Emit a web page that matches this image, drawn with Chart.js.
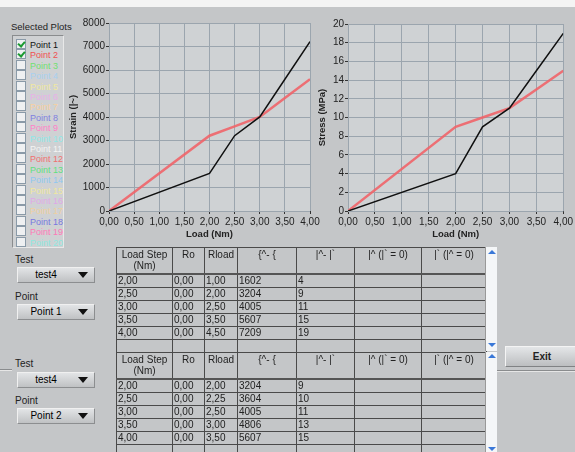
<!DOCTYPE html>
<html>
<head>
<meta charset="utf-8">
<script src="https://cdn.jsdelivr.net/npm/chart.js@4"></script>
<style>
  body { margin: 0; width: 575px; height: 452px; overflow: hidden; background: #c4c6c8; font-family: "Liberation Sans", Arial, sans-serif; position: relative; }
  .abs { position: absolute; }
  #topband { left: 0; top: 0; width: 575px; height: 7px; background: #f4f4f4; }
  .lbl { font-size: 10px; color: #222; }
  #plotlist { left: 12px; top: 35px; width: 50px; height: 211px; background: #cfd1d3; border: 1px solid #8a8c8e; border-right-color: #e8e8e8; border-bottom-color: #e8e8e8; }
  .item { position: absolute; left: 3px; height: 10px; font-size: 9px; line-height: 10px; white-space: nowrap; }
  .box { display: inline-block; width: 8px; height: 8px; background: #eef0f2; border: 1px solid #8a9aa8; vertical-align: -1px; margin-right: 4px; position: relative; }
  .box.on::after { content: ""; position: absolute; left: 2px; top: 0px; width: 3px; height: 5px; border: solid #1a9a30; border-width: 0 2px 2px 0; transform: rotate(40deg); }
  .dd { width: 76px; height: 14px; background: linear-gradient(#e2e4e6, #bfc1c3); border: 1px solid #8c8e90; border-top-color: #f0f0f0; border-left-color: #f0f0f0; font-size: 10px; line-height: 14px; }
  .dd span { position: absolute; left: 0; width: 56px; text-align: center; }
  .dd i { position: absolute; right: 6px; top: 4px; width: 0; height: 0; border-left: 5px solid transparent; border-right: 5px solid transparent; border-top: 6px solid #111; }
  table { border-collapse: collapse; table-layout: fixed; font-size: 10px; color: #222; }
  td, th { border: 1px solid #4a4a4a; padding: 0 1px; height: 12px; line-height: 12px; overflow: hidden; white-space: nowrap; font-weight: normal; }
  th { height: 24px; line-height: 11px; text-align: center; vertical-align: top; padding-top: 1px; white-space: normal; border-bottom: 2px solid #555; }
  .scroll { width: 11px; background: #f4f6f8; border-left: 1px solid #999; }
  .arr { position: absolute; left: 2px; width: 0; height: 0; border-left: 4px solid transparent; border-right: 4px solid transparent; }
  .arr.up { border-bottom: 4px solid #3a78d8; }
  .arr.down { border-top: 4px solid #3a78d8; }
  #exit { left: 505px; top: 346px; width: 72px; height: 19px; background: linear-gradient(#e4e6e8, #bcbec0); border: 1px solid #808284; border-top-color: #f4f4f4; border-left-color: #f4f4f4; font-size: 10px; text-align: center; line-height: 19px; font-weight: bold; color: #222; }
  .split { height: 1px; background: #8a8c8e; border-bottom: 1px solid #e6e6e6; }
</style>
</head>
<body>
<div id="topband" class="abs"></div>
<div class="abs lbl" style="left:11px;top:21px;font-size:9.5px;">Selected Plots</div>
<div id="plotlist" class="abs"></div>

<canvas id="strainChart" class="abs" style="left:60px;top:8px;"></canvas>
<canvas id="stressChart" class="abs" style="left:300px;top:8px;"></canvas>

<div class="abs lbl" style="left:15px;top:254px;">Test</div>
<div class="abs dd" style="left:17px;top:267px;"><span>test4</span><i></i></div>
<div class="abs lbl" style="left:15px;top:291px;">Point</div>
<div class="abs dd" style="left:17px;top:304px;"><span>Point 1</span><i></i></div>

<div class="abs lbl" style="left:15px;top:358px;">Test</div>
<div class="abs dd" style="left:17px;top:372px;"><span>test4</span><i></i></div>
<div class="abs lbl" style="left:15px;top:395px;">Point</div>
<div class="abs dd" style="left:17px;top:408px;"><span>Point 2</span><i></i></div>

<div id="table1" class="abs" style="left:116px;top:247px;"></div>
<div id="table2" class="abs" style="left:116px;top:352px;"></div>
<div class="abs scroll" style="left:485px;top:247px;height:104px;"><div class="arr up" style="top:3px;"></div><div class="arr down" style="top:96px;"></div></div>
<div class="abs scroll" style="left:485px;top:352px;height:100px;"><div class="arr up" style="top:2px;"></div><div class="arr down" style="top:95px;"></div></div>

<div class="abs split" style="left:0;top:369px;width:12px;"></div>
<div class="abs split" style="left:497px;top:370px;width:78px;"></div>
<div id="exit" class="abs">Exit</div>

<script>
// chart data
const loadSteps = [0, 2, 2.5, 3, 3.5, 4];
const strainP1 = [0, 1602, 3204, 4005, 5607, 7209];
const strainP2 = [0, 3204, 3604, 4005, 4806, 5607];
const stressP1 = [0, 4, 9, 11, 15, 19];
const stressP2 = [0, 9, 10, 11, 13, 15];

// table data (rows after the zero step)
const roP1 = [0, 0, 0, 0, 0];
const roP2 = [0, 0, 0, 0, 0];
const rloadP1 = [1, 2, 2.5, 3.5, 4.5];
const rloadP2 = [2, 2.25, 2.5, 3, 3.5];

const pointNames = ['Point 1','Point 2','Point 3','Point 4','Point 5','Point 6','Point 7','Point 8','Point 9','Point 10',
  'Point 11','Point 12','Point 13','Point 14','Point 15','Point 16','Point 17','Point 18','Point 19','Point 20'];
const pointColors = ['#111111','#f05050','#70e070','#a8d0f0','#f0e8a0','#e8b0e8','#f8d0a0','#8080e0','#ff80c8','#90e8e8',
  '#f4f4f4','#f07070','#60e080','#90c8f0','#f0e8a0','#e0a8e8','#f0d0a0','#7878e0','#ff78b8','#90e8e0'];
const selected = [true, true];

const headers = ['Load Step (Nm)', 'Ro', 'Rload', '{^- {', '|^- |`', '|^ (|`  = 0)', '|`  (|^ = 0)'];
const colWidths = [56, 32, 33, 59, 58, 67, 65];

const fmt = v => v.toFixed(2).replace('.', ',');

// list of plots
const list = document.getElementById('plotlist');
pointNames.forEach((name, i) => {
  const d = document.createElement('div');
  d.className = 'item';
  d.style.top = (3 + i * 10.4) + 'px';
  d.style.color = pointColors[i];
  d.innerHTML = '<span class="box' + (selected[i] ? ' on' : '') + '"></span>' + name;
  list.appendChild(d);
});

function buildTable(id, ro, rload, strain, stress) {
  let h = '<table><colgroup>' + colWidths.map(w => '<col style="width:' + w + 'px">').join('') + '</colgroup><tr>';
  h += headers.map(t => '<th>' + t + '</th>').join('') + '</tr>';
  for (let i = 1; i < loadSteps.length; i++) {
    h += '<tr><td>' + fmt(loadSteps[i]) + '</td><td>' + fmt(ro[i - 1]) + '</td><td>' + fmt(rload[i - 1]) +
      '</td><td>' + strain[i] + '</td><td>' + stress[i] + '</td><td></td><td></td></tr>';
  }
  h += '<tr>' + colWidths.map(() => '<td></td>').join('') + '</tr></table>';
  document.getElementById(id).innerHTML = h;
}
buildTable('table1', roP1, rloadP1, strainP1, stressP1);
buildTable('table2', roP2, rloadP2, strainP2, stressP2);

const plotBg = {
  id: 'plotBg',
  beforeDraw(chart) {
    const a = chart.chartArea, c = chart.ctx;
    c.save();
    c.fillStyle = '#cfd2d4';
    c.fillRect(a.left, a.top, a.right - a.left, a.bottom - a.top);
    c.restore();
  }
};

function makeChart(id, w, h, pad, yWidth, yTitlePad, yMax, yStep, yTitle, s1, s2) {
  const canvas = document.getElementById(id);
  canvas.style.width = w + 'px';
  canvas.style.height = h + 'px';
  canvas.width = w; canvas.height = h;
  new Chart(canvas, {
    type: 'line',
    data: {
      datasets: [
        { data: loadSteps.map((x, i) => ({ x, y: s1[i] })), borderColor: '#101010', borderWidth: 1.5, pointRadius: 0, tension: 0 },
        { data: loadSteps.map((x, i) => ({ x, y: s2[i] })), borderColor: 'rgba(240,100,105,0.9)', borderWidth: 2.5, pointRadius: 0, tension: 0 }
      ]
    },
    options: {
      responsive: false,
      animation: false,
      layout: { padding: pad },
      plugins: { legend: { display: false }, tooltip: { enabled: false } },
      scales: {
        x: {
          type: 'linear', min: 0, max: 4,
          ticks: { stepSize: 0.5, callback: v => fmt(v), color: '#222', font: { family: 'Liberation Sans', size: 10 }, padding: 2, maxRotation: 0 },
          grid: { color: '#9ba5ae', tickColor: '#333', tickLength: 3 },
          border: { display: false },
          title: { display: true, text: 'Load (Nm)', color: '#222', font: { family: 'Liberation Sans', size: 9.5, weight: 'bold' }, padding: { top: 1, bottom: 8 } },
          afterFit: s => { s.height = 37; }
        },
        y: {
          min: 0, max: yMax,
          ticks: { stepSize: yStep, callback: v => String(v), color: '#222', font: { family: 'Liberation Sans', size: 10 }, padding: 1 },
          grid: { color: '#9ba5ae', tickColor: '#333', tickLength: 3 },
          border: { display: false },
          title: { display: true, text: yTitle, color: '#222', font: { family: 'Liberation Sans', size: 9.5, weight: 'bold' }, padding: { top: yTitlePad, bottom: yTitlePad } },
          afterFit: s => { s.width = yWidth; }
        }
      }
    },
    plugins: [plotBg]
  });
}

makeChart('strainChart', 262, 240, { top: 15, right: 12 }, 49, 8, 8000, 1000, 'Strain (|~)', strainP1, strainP2);
makeChart('stressChart', 275, 240, { top: 16, right: 9 }, 48, 17, 20, 2, 'Stress (MPa)', stressP1, stressP2);
</script>
</body>
</html>
